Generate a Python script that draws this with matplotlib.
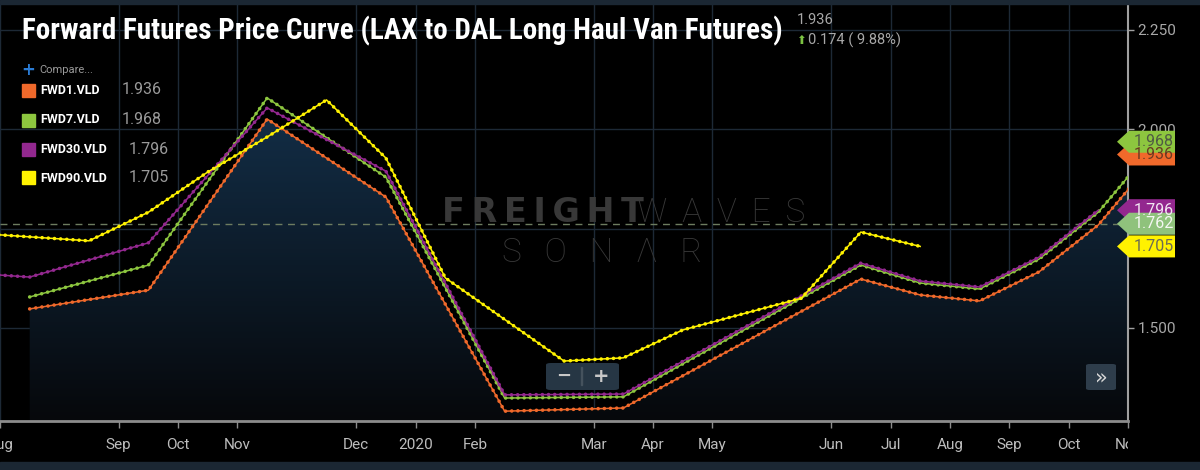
import numpy as np
import matplotlib
matplotlib.use("Agg")
import matplotlib.pyplot as plt
import matplotlib.transforms as mtransforms
from matplotlib.patches import Polygon, FancyBboxPatch, Rectangle

# x positions are in "chart slots" (one slot per month tick spacing on the SONAR axis)
tick_pos = [0, 2, 3, 4, 6, 7, 8, 10, 11, 12, 14, 15, 16, 17, 18, 19]
tick_labels = ["Aug", "Sep", "Oct", "Nov", "Dec", "2020", "Feb", "Mar", "Apr", "May",
               "Jun", "Jul", "Aug", "Sep", "Oct", "Nov"]

fwd1_x = [0.5, 2.5, 4.5, 6.5, 8.5, 10.5, 14.5, 15.5, 16.5, 17.5, 18.5, 19.5]
fwd1_y = [1.548, 1.595, 2.025, 1.829, 1.291, 1.299, 1.623, 1.583, 1.568, 1.641, 1.759, 1.936]

fwd7_x = [0.5, 2.5, 4.5, 6.5, 8.5, 10.5, 14.5, 15.5, 16.5, 17.5, 18.5, 19.5]
fwd7_y = [1.578, 1.658, 2.078, 1.879, 1.324, 1.327, 1.658, 1.613, 1.598, 1.673, 1.791, 1.968]

fwd30_x = [-0.5, 0.5, 2.5, 4.5, 6.5, 8.5, 10.5, 14.5, 15.5, 16.5, 17.5, 18.5]
fwd30_y = [1.638, 1.628, 1.714, 2.053, 1.894, 1.332, 1.334, 1.663, 1.618, 1.603, 1.678, 1.796]

fwd90_x = [-0.5, 1.5, 2.5, 3.5, 4.5, 5.5, 6.5, 7.5, 9.5, 10.5, 11.5, 12.5, 13.5, 14.5, 15.5]
fwd90_y = [1.739, 1.719, 1.791, 1.892, 1.980, 2.073, 1.927, 1.626, 1.417, 1.425, 1.495,
           1.535, 1.575, 1.741, 1.705]

series_names = ["FWD1.VLD", "FWD7.VLD", "FWD30.VLD", "FWD90.VLD"]
series_last = ["1.936", "1.968", "1.796", "1.705"]
series_colors = ["#f0692b", "#8dc63f", "#93288f", "#fff200"]

base_value = 1.762
change_text = "0.174 ( 9.88%)"

# right side value tags: value, background, text colour (drawn in this order)
tag_values = [1.936, 1.968, 1.796, 1.762, 1.705]
tag_colors = ["#f0692b", "#8dc63f", "#93288f", "#8fc27c", "#fff200"]
tag_text_colors = ["#6a3a22", "#4f5a44", "#f2e6f2", "#f4f7f2", "#6b6b55"]

y_ticks = [1.5, 1.75, 2.0, 2.25]
y_lo, y_hi = 1.2663, 2.3116

fig = plt.figure(figsize=(12, 4.7), dpi=100, facecolor="black")
ax = fig.add_axes([0, 49 / 470, 1128 / 1200, 416 / 470])
ax.set_facecolor("black")
ax.set_xlim(0, 19)
ax.set_ylim(y_lo, y_hi)

# top and bottom frame strips
fig.patches.append(Rectangle((0, 0), 1, 8 / 470, transform=fig.transFigure,
                             color="#1b2733", zorder=0))
fig.patches.append(Rectangle((0, 1 - 4 / 470), 1, 4 / 470, transform=fig.transFigure,
                             color="#1b2733", zorder=0))

# grid
ax.set_xticks(tick_pos)
ax.set_xticklabels(tick_labels)
ax.set_yticks(y_ticks)
ax.set_yticklabels([f"{v:.3f}" for v in y_ticks])
ax.grid(True, color="#1d2936", linewidth=1.0, zorder=0)
ax.set_axisbelow(True)

# gradient fill under FWD1
poly = ax.fill_between(fwd1_x, fwd1_y, y_lo, color="none", lw=0)
grad = np.linspace(0, 1, 256).reshape(-1, 1)
top_c = np.array([0x13, 0x2e, 0x47]) / 255
bot_c = np.array([0x06, 0x08, 0x0b]) / 255
img = top_c * (1 - grad[..., None]) + bot_c * grad[..., None]
im = ax.imshow(img, extent=[0, 19, y_lo, 2.05], aspect="auto", origin="upper", zorder=1)
im.set_clip_path(poly.get_paths()[0], transform=ax.transData)

# watermark
th = "\u2009"
ax.text(0.392, 0.5, th.join("FREIGHT"), transform=ax.transAxes, fontsize=24, fontweight="bold",
        color="#383838", family=["DejaVu Sans"], ha="left", va="center", zorder=2)
ax.text(0.565, 0.5, (" " + th).join("WAVES"), transform=ax.transAxes, fontsize=24,
        fontweight="light", color="#383838", family=["Roboto", "DejaVu Sans"],
        ha="left", va="center", zorder=2)
ax.text(0.534, 0.404, ("  " + th).join("SONΛR"), transform=ax.transAxes, fontsize=24,
        fontweight="light", color="#383838", family=["Roboto", "DejaVu Sans"],
        ha="center", va="center", zorder=2)

# base line
ax.axhline(base_value, color="#6d7c60", lw=1.0, ls=(0, (5, 4)), zorder=3)

# the four curves: thin line + dense dots
all_x = [fwd1_x, fwd7_x, fwd30_x, fwd90_x]
all_y = [fwd1_y, fwd7_y, fwd30_y, fwd90_y]
for i in [3, 2, 1, 0]:
    ax.plot(all_x[i], all_y[i], color=series_colors[i], lw=1.1, zorder=4 + i * 0.1)
    ax.plot(all_x[i], all_y[i], color=series_colors[i], lw=2.6, zorder=4 + i * 0.1,
            linestyle=(0, (0.01, 1.7)), dash_capstyle="round")

# axes styling
for side in ["left", "top"]:
    ax.spines[side].set_visible(False)
ax.spines["right"].set_color("#a0a0a0")
ax.spines["right"].set_linewidth(1.5)
ax.spines["bottom"].set_color("#8c8c8c")
ax.spines["bottom"].set_linewidth(2)
ax.yaxis.tick_right()
ax.tick_params(axis="y", colors="#a0a0a0", labelcolor="#a8a8a8", length=4, width=1,
               labelsize=11, pad=3)
ax.tick_params(axis="x", colors="#8c8c8c", labelcolor="#bdbdbd", length=5, width=1,
               labelsize=11, pad=7)
for lab in ax.get_xticklabels() + ax.get_yticklabels():
    lab.set_family(["Roboto", "DejaVu Sans"])
clip = mtransforms.TransformedBbox(mtransforms.Bbox([[0, 0], [1128 / 1200, 1]]), fig.transFigure)
for lab in ax.get_xticklabels():
    lab.set_clip_box(clip)
    lab.set_clip_on(True)

# value tags on the right axis
tr = mtransforms.blended_transform_factory(ax.transAxes, ax.transData)
half = 11 / 398
tip = 1 - 11 / 1128
body0 = 1 + 1 / 1128
body1 = 1 + 47 / 1128
for v, bg, fg in zip(tag_values, tag_colors, tag_text_colors):
    shape = Polygon([[tip, v], [body0, v + half], [body1, v + half], [body1, v - half],
                     [body0, v - half]], closed=True, transform=tr, facecolor=bg,
                    edgecolor="none", clip_on=False, zorder=6)
    ax.add_patch(shape)
    ax.text(body1 - 1 / 1128, v, f"{v:.3f}", transform=tr, ha="right", va="center",
            fontsize=11.5, color=fg, family=["Roboto", "DejaVu Sans"], clip_on=False, zorder=7)

# title + header values
fig.text(22 / 1200, 1 - 31 / 470, "Forward Futures Price Curve (LAX to DAL Long Haul Van Futures)",
         fontsize=21, fontweight="bold", color="white", va="center", ha="left",
         family=["Roboto Condensed", "Liberation Sans Narrow", "Roboto", "DejaVu Sans"])
fig.text(797 / 1200, 1 - 20 / 470, series_last[0], fontsize=10.5, color="#a8a8a8",
         va="center", ha="left", family=["Roboto", "DejaVu Sans"])
fig.text(796 / 1200, 1 - 40 / 470, "⬆", fontsize=8.5, color="#7cc242", va="center", ha="left",
         family=["DejaVu Sans"])
fig.text(808 / 1200, 1 - 40 / 470, change_text, fontsize=10.5, color="#a8a8a8",
         va="center", ha="left", family=["Roboto", "DejaVu Sans"])

# legend block
fig.text(21 / 1200, 1 - 70 / 470, "+", fontsize=12, fontweight="bold", color="#2a7bd4",
         va="center", ha="left", family=["DejaVu Sans"])
fig.text(39 / 1200, 1 - 70 / 470, "Compare...", fontsize=8, color="#9a9a9a",
         va="center", ha="left", family=["Roboto", "DejaVu Sans"])
row_y = [90, 120, 149, 178]
val_x = [122, 122, 129, 129]
for name, last, col, ry, vx in zip(series_names, series_last, series_colors, row_y, val_x):
    fig.patches.append(Rectangle((22 / 1200, 1 - (ry + 6.5) / 470), 13 / 1200, 13 / 470,
                                 transform=fig.transFigure, color=col, zorder=5))
    fig.text(40 / 1200, 1 - ry / 470, name, fontsize=9, fontweight="bold", color="white",
             va="center", ha="left", family=["Roboto", "DejaVu Sans"])
    fig.text(vx / 1200, 1 - ry / 470, last, fontsize=11.5, color="#9a9a9a",
             va="center", ha="left", family=["Roboto", "DejaVu Sans"])

# zoom controls
fig.patches.append(FancyBboxPatch((546 / 1200, 1 - 390 / 470), 73 / 1200, 27 / 470,
                                  boxstyle="round,pad=0,rounding_size=0.004",
                                  transform=fig.transFigure, facecolor="#263644",
                                  edgecolor="none", zorder=8))
fig.text(564 / 1200, 1 - 376 / 470, "−", fontsize=13, fontweight="bold", color="#c8c8c8",
         va="center", ha="center", zorder=9)
fig.text(601 / 1200, 1 - 376 / 470, "+", fontsize=14, fontweight="bold", color="#c8c8c8",
         va="center", ha="center", zorder=9)
fig.patches.append(Rectangle((581 / 1200, 1 - 385 / 470), 1 / 1200, 18 / 470,
                             transform=fig.transFigure, color="#45525d", zorder=9))
fig.patches.append(FancyBboxPatch((1086 / 1200, 1 - 390 / 470), 30 / 1200, 26 / 470,
                                  boxstyle="round,pad=0,rounding_size=0.003",
                                  transform=fig.transFigure, facecolor="#2e3d4b",
                                  edgecolor="none", zorder=8))
fig.text(1101 / 1200, 1 - 377 / 470, "»", fontsize=15, color="#d8d8d8",
         va="center", ha="center", zorder=9)

plt.savefig("out.png", dpi=100, facecolor="black")
